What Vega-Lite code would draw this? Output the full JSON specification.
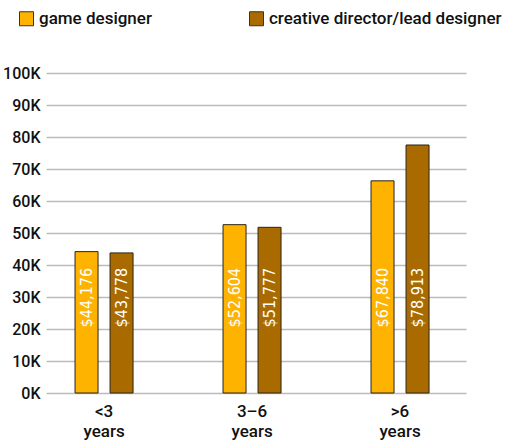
{
  "$schema": "https://vega.github.io/schema/vega-lite/v6.json",
  "autosize": "none",
  "width": 420,
  "height": 320,
  "padding": {"left": 46, "top": 73, "right": 39, "bottom": 48},
  "data": {
    "values": [
      {"exp": "<3 years", "role": "game designer", "salary": 44176, "label": "$44,176"},
      {"exp": "<3 years", "role": "creative director/lead designer", "salary": 43778, "label": "$43,778"},
      {"exp": "3–6 years", "role": "game designer", "salary": 52604, "label": "$52,604"},
      {"exp": "3–6 years", "role": "creative director/lead designer", "salary": 51777, "label": "$51,777"},
      {"exp": ">6 years", "role": "game designer", "salary": 66300, "label": "$67,840"},
      {"exp": ">6 years", "role": "creative director/lead designer", "salary": 77500, "label": "$78,913"}
    ]
  },
  "config": {"view": {"stroke": null}, "font": "Roboto"},
  "encoding": {
    "x": {
      "field": "exp", "type": "nominal",
      "sort": ["<3 years", "3–6 years", ">6 years"],
      "scale": {"paddingInner": 0.608, "paddingOuter": 0.223, "align": 0.44},
      "axis": {"title": null, "labelAngle": 0, "domain": false, "ticks": false,
        "labelExpr": "split(datum.label, ' ')", "labelFontSize": 17, "labelLineHeight": 20,
        "labelPadding": 10, "labelColor": "#111", "labelFontWeight": 500}
    },
    "xOffset": {
      "field": "role", "type": "nominal",
      "sort": ["game designer", "creative director/lead designer"],
      "scale": {"paddingInner": 0.343, "paddingOuter": 0}
    }
  },
  "layer": [
    {
      "mark": {"type": "bar", "stroke": "#2b2416", "strokeWidth": 1},
      "encoding": {
        "y": {
          "field": "salary", "type": "quantitative",
          "scale": {"domain": [0, 100000]},
          "axis": {"title": null, "values": [0, 10000, 20000, 30000, 40000, 50000, 60000, 70000, 80000, 90000, 100000],
            "labelExpr": "datum.value/1000 + 'K'", "labelOverlap": false, "domain": false, "ticks": false,
            "gridColor": "#bbbbbb", "gridWidth": 1.5, "labelFontSize": 16, "labelPadding": 6,
            "labelColor": "#111", "labelFontWeight": 500}
        },
        "color": {
          "field": "role", "type": "nominal",
          "sort": ["game designer", "creative director/lead designer"],
          "scale": {"domain": ["game designer", "creative director/lead designer"], "range": ["#FDB300", "#A96A00"]},
          "legend": {"title": null, "orient": "none", "legendX": -28, "legendY": -63, "direction": "horizontal",
            "symbolType": "square", "symbolSize": 196, "symbolStrokeColor": "#333", "symbolStrokeWidth": 1,
            "symbolOpacity": 1, "labelFontSize": 17, "labelFontWeight": 500, "labelColor": "#111",
            "columnPadding": 95, "labelOffset": 4, "labelLimit": 400}
        }
      }
    },
    {
      "mark": {"type": "text", "angle": 270, "align": "left", "baseline": "middle", "color": "white",
        "fontSize": 16, "font": "DejaVu Sans Condensed"},
      "encoding": {
        "y": {"datum": 20500, "type": "quantitative",
          "axis": {"title": null, "values": [0, 10000, 20000, 30000, 40000, 50000, 60000, 70000, 80000, 90000, 100000],
            "labelExpr": "datum.value/1000 + 'K'", "labelOverlap": false, "domain": false, "ticks": false,
            "gridColor": "#bbbbbb", "gridWidth": 1.5, "labelFontSize": 16, "labelPadding": 6,
            "labelColor": "#111", "labelFontWeight": 500}},
        "text": {"field": "label"}
      }
    }
  ]
}
